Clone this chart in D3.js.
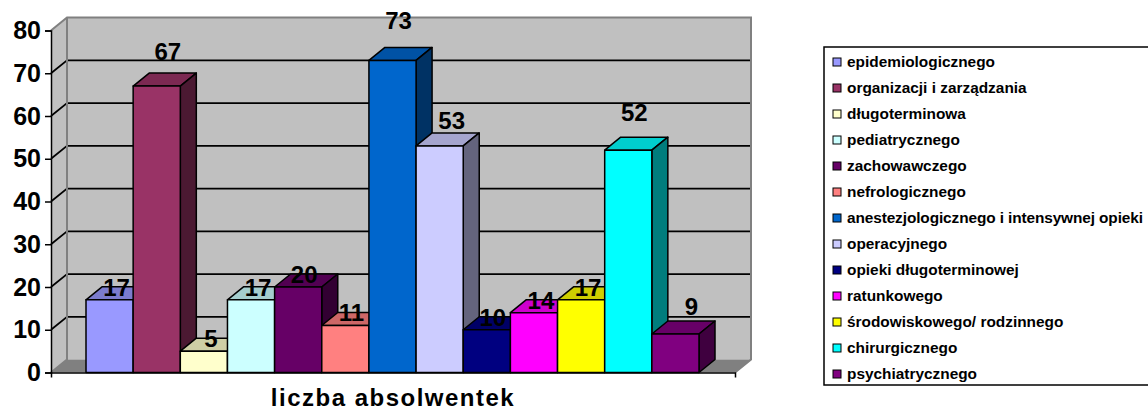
<!DOCTYPE html>
<html>
  <head>
    <meta charset="utf-8">
    <title>liczba absolwentek</title>
    <script type="text/javascript" src="https://d3js.org/d3.v7.min.js"></script>
    <style type="text/css">
      html, body { margin: 0; padding: 0; background: #fff; }
      svg { display: block; }
      text { font-family: "Liberation Sans", Arial, sans-serif; font-weight: bold; fill: #000; }
    </style>
  </head>
  <body>
    <script type="text/javascript">
    var categories = ["epidemiologicznego", "organizacji i zarządzania", "długoterminowa",
      "pediatrycznego", "zachowawczego", "nefrologicznego",
      "anestezjologicznego i intensywnej opieki", "operacyjnego", "opieki długoterminowej",
      "ratunkowego", "środowiskowego/ rodzinnego", "chirurgicznego", "psychiatrycznego"];
    var values = [17, 67, 5, 17, 20, 11, 73, 53, 10, 14, 17, 52, 9];
    var colors = ["#9999ff", "#993366", "#ffffcc", "#ccffff", "#660066", "#ff8080",
      "#0066cc", "#ccccff", "#000080", "#ff00ff", "#ffff00", "#00ffff", "#800080"];
    var yTicks = [0, 10, 20, 30, 40, 50, 60, 70, 80];
    var xLabel = "liczba absolwentek";

    // the labels in the picture do not sit at one fixed distance from their bars
    var labelDx = [7, 11, 7, 7, 6, 6, 6, 12, 6, 7, 7, 6, 16];
    var labelDy = [4, 26, 4, 4, 4, 4, 31, 17, 4, 4, 4, 29, 19];

    var widthSVG = 1148, heightSVG = 410;
    var plotLeft = 51, plotRight = 735, plotBottom = 372.5, plotTop = 30.5;
    var depthX = 16, depthY = 13;

    var svg = d3.select("body").append("svg")
                .attr("width", widthSVG)
                .attr("height", heightSVG);

    var yScale = d3.scaleLinear().domain([0, 80]).range([plotBottom, plotTop]);
    var xScale = d3.scaleBand().domain(categories).range([86, 699]);
    var axisScale = d3.scaleBand().domain([xLabel]).range([plotLeft, plotRight]);

    function poly(points) { return "M" + points.join("L") + "Z"; }

    // walls and floor
    svg.append("rect")
       .attr("x", plotLeft + depthX).attr("y", plotTop - depthY)
       .attr("width", plotRight - plotLeft).attr("height", plotBottom - plotTop)
       .attr("fill", "#c0c0c0");
    svg.append("path")
       .attr("d", poly([[plotLeft, plotTop], [plotLeft + depthX, plotTop - depthY], [plotLeft + depthX, plotBottom - depthY], [plotLeft, plotBottom]]))
       .attr("fill", "#c0c0c0");
    svg.append("path")
       .attr("d", poly([[plotLeft, plotBottom], [plotLeft + depthX, plotBottom - depthY], [plotRight + depthX, plotBottom - depthY], [plotRight, plotBottom]]))
       .attr("fill", "#808080");

    // gridlines
    svg.selectAll("path.grid")
       .data(yTicks.slice(1, -1))
       .enter()
       .append("path")
       .attr("class", "grid")
       .attr("fill", "none")
       .attr("stroke-width", 1.75)
       .attr("stroke", "#000")
       .attr("d", d => "M" + [plotLeft, yScale(d)] + "L" + [plotLeft + depthX, yScale(d) - depthY] + "L" + [plotRight + depthX, yScale(d) - depthY]);

    // grey wall edges
    svg.append("path")
       .attr("d", "M" + [plotLeft, plotTop] + "L" + [plotLeft + depthX, plotTop - depthY] + "L" + [plotRight + depthX, plotTop - depthY] + "L" + [plotRight + depthX, plotBottom - depthY] + "L" + [plotRight, plotBottom])
       .attr("fill", "none").attr("stroke", "#808080").attr("stroke-width", 2);
    svg.append("path")
       .attr("d", "M" + [plotLeft, plotBottom] + "L" + [plotLeft + depthX, plotBottom - depthY] + "L" + [plotLeft + depthX, plotTop - depthY])
       .attr("fill", "none").attr("stroke", "#808080").attr("stroke-width", 2);

    // bars, left to right so each one covers the side of the one before
    var bars = svg.selectAll("g.bar")
                  .data(categories)
                  .enter()
                  .append("g")
                  .attr("class", "bar")
                  .attr("stroke", "#000")
                  .attr("stroke-width", 1.5)
                  .attr("stroke-linejoin", "round");

    bars.append("path")
        .attr("fill", (d, i) => d3.rgb(colors[i]).darker(0.6))
        .attr("d", (d, i) => {
          var x0 = xScale(d), x1 = x0 + xScale.bandwidth(), y = yScale(values[i]);
          return poly([[x0, y], [x0 + depthX, y - depthY], [x1 + depthX, y - depthY], [x1, y]]);
        });
    bars.append("path")
        .attr("fill", (d, i) => d3.rgb(colors[i]).darker(2))
        .attr("d", (d, i) => {
          var x1 = xScale(d) + xScale.bandwidth(), y = yScale(values[i]);
          return poly([[x1, y], [x1 + depthX, y - depthY], [x1 + depthX, plotBottom - depthY], [x1, plotBottom]]);
        });
    bars.append("rect")
        .attr("x", d => xScale(d))
        .attr("y", (d, i) => yScale(values[i]))
        .attr("width", xScale.bandwidth())
        .attr("height", (d, i) => plotBottom - yScale(values[i]))
        .attr("fill", (d, i) => colors[i]);

    // axes
    var yAxis = svg.append("g")
       .attr("transform", "translate(" + plotLeft + ",0)")
       .call(d3.axisLeft(yScale).tickValues(yTicks).tickSize(6).tickPadding(4));
    yAxis.selectAll("text").style("font-size", "25px");
    yAxis.selectAll("line, path").attr("stroke", "#000").attr("stroke-width", 1.5);

    var xAxis = svg.append("g")
       .attr("transform", "translate(0," + plotBottom + ")")
       .call(d3.axisBottom(axisScale).tickSize(0).tickSizeOuter(5).tickPadding(16));
    xAxis.selectAll("text")
         .style("font-size", "24px")
         .style("letter-spacing", "1.5px");
    xAxis.selectAll("path").attr("stroke", "#000").attr("stroke-width", 1.5);

    // data labels on top of everything
    svg.selectAll("text.value")
       .data(categories)
       .enter()
       .append("text")
       .attr("class", "value")
       .attr("text-anchor", "middle")
       .style("font-size", "24px")
       .attr("x", (d, i) => xScale(d) + xScale.bandwidth() / 2 + labelDx[i])
       .attr("y", (d, i) => yScale(values[i]) - labelDy[i])
       .text((d, i) => values[i]);

    // legend, its right edge runs off the picture
    var legendScale = d3.scalePoint().domain(categories).range([62, 374]);
    svg.append("rect")
       .attr("x", 824).attr("y", 47)
       .attr("width", 340).attr("height", 338)
       .attr("fill", "#fff").attr("stroke", "#000").attr("stroke-width", 1.5);
    var legend = svg.selectAll("g.legend")
                    .data(categories)
                    .enter()
                    .append("g")
                    .attr("class", "legend")
                    .attr("transform", d => "translate(833," + legendScale(d) + ")");
    legend.append("rect")
          .attr("y", -4).attr("width", 8).attr("height", 8)
          .attr("fill", (d, i) => colors[i])
          .attr("stroke", "#000").attr("stroke-width", 1);
    legend.append("text")
          .attr("x", 14).attr("dy", "0.35em")
          .style("font-size", "15.4px")
          .attr("textLength", (d, i) => i == 6 ? 296 : null) // the longest row is set wider in the picture
          .text(d => d);
    </script>
  </body>
</html>
